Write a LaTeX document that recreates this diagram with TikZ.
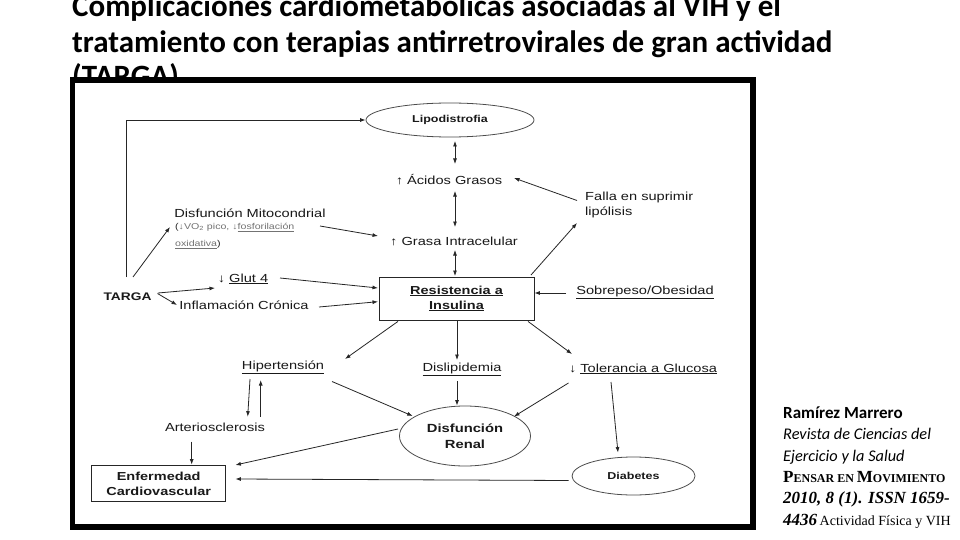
\documentclass[tikz,border=0pt]{standalone}
\usepackage{fontspec}
\usetikzlibrary{shapes.geometric,arrows.meta,calc}
\setmainfont{Liberation Sans}
\newfontfamily\diagfont[FakeStretch=1.25]{Liberation Sans}
\newfontfamily\titlefont{Carlito}
\newfontfamily\citeserif{Liberation Serif}
\begin{document}
\begin{tikzpicture}[x=1pt,y=-1pt,
  lbl/.style={font=\diagfont\fontsize{11.7}{15}\selectfont, inner sep=0pt, text=black!90, align=center},
  blbl/.style={lbl, font=\diagfont\bfseries\fontsize{11.6}{15}\selectfont},
  sblbl/.style={lbl, font=\diagfont\bfseries\fontsize{10}{12}\selectfont},
  subl/.style={font=\diagfont\fontsize{8.5}{17}\selectfont, inner sep=0pt, text=black!55, align=left},
  ell/.style={ellipse, draw=black!70, line width=0.8pt, inner sep=0pt},
  boxn/.style={rectangle, draw=black!85, line width=0.8pt, inner sep=0pt},
  conn/.style={draw=black!85, line width=0.8pt},
  arr/.style={conn, -{Latex[length=5.5pt,width=4pt]}},
  dbl/.style={conn, {Latex[length=5.5pt,width=4pt]}-{Latex[length=5.5pt,width=4pt]}},
  ttl/.style={font=\titlefont\bfseries\fontsize{31}{36}\selectfont, inner sep=0pt, anchor=base west},
  cite/.style={inner sep=0pt, anchor=base west}
]
\useasboundingbox (0,0) rectangle (960,540);
\fill[white] (0,0) rectangle (960,540);

% title
\node[ttl] (t1) at (72,17) {Complicaciones cardiometabólicas asociadas al VIH y el};
\node[ttl] (t2) at (72,53) {tratamiento con terapias antirretrovirales de gran actividad};
\node[ttl] (t3) at (72,87) {(TARGA).};

% frame
\draw[line width=5.5pt, fill=white] (72.5,80) rectangle (753,527);

% nodes
\node[ell, sblbl, minimum width=168pt, minimum height=34pt] (lipo) at (450,120) {Lipodistrofia};
\node[lbl] (acid) at (449,180) {↑ Ácidos Grasos};
\node[lbl, align=left, anchor=west] (falla) at (585,204.5) {Falla en suprimir\\lipólisis};
\node[lbl] (mito) at (250,213) {Disfunción Mitocondrial};
\node[subl, anchor=north west] (msub) at (175,223) {\textcolor{black!85}{(}↓VO\textsubscript{2} pico, ↓\underline{fosforilación}\\\underline{oxidativa}\textcolor{black!85}{)}};
\node[lbl] (grasa) at (454,241) {↑ Grasa Intracelular};
\node[boxn, blbl, minimum width=155pt, minimum height=43pt] (res) at (456.5,298.5) {\underline{Resistencia a}\\\underline{Insulina}};
\node[lbl] (sobre) at (645,292) {\underline{Sobrepeso/Obesidad}};
\node[lbl, font=\diagfont\bfseries\fontsize{11}{13}\selectfont] (targa) at (127.5,296.5) {TARGA};
\node[lbl] (glut) at (243,279) {↓ \underline{Glut 4}};
\node[lbl] (infl) at (244,305) {Inflamación Crónica};
\node[lbl] (hiper) at (283,367.5) {\underline{Hipertensión}};
\node[lbl] (disl) at (462,369) {\underline{Dislipidemia}};
\node[lbl] (toler) at (643,369) {↓ \underline{Tolerancia a Glucosa}};
\node[lbl] (arter) at (215,427) {Arteriosclerosis};
\node[ell, blbl, minimum width=131pt, minimum height=60pt, font=\diagfont\bfseries\fontsize{11.8}{16}\selectfont] (renal) at (465,436) {Disfunción\\Renal};
\node[ell, sblbl, minimum width=123pt, minimum height=38pt] (diab) at (633.5,476) {Diabetes};
\node[boxn, blbl, minimum width=134pt, minimum height=36pt] (ecv) at (158.7,483.7) {Enfermedad\\Cardiovascular};

% connectors
\draw[arr] ($(targa.center)+(-0.8,-19.5)$) |- (lipo.west);
\draw[arr] ($(targa.center)+(5.5,-19.5)$) -- ($(msub.north west)+(-5,4)$);
\draw[arr] ($(targa.center)+(30.5,-3.5)$) -- ($(glut.center)+(-28,9)$);
\draw[arr] ($(targa.center)+(30,-3)$) -- ($(infl.center)+(-67,0)$);
\draw[arr] ($(glut.center)+(37,-1)$) -- ($(res.center)+(-78.5,-10.5)$);
\draw[arr] ($(infl.center)+(75,2)$) -- ($(res.center)+(-78.5,3.2)$);
\draw[arr] ($(mito.center)+(70,13)$) -- ($(grasa.center)+(-76,-5)$);
\draw[dbl] ($(lipo.center)+(5,21)$) -- ($(acid.center)+(6,-16)$);
\draw[dbl] ($(acid.center)+(6,11)$) -- ($(grasa.center)+(1,-14)$);
\draw[dbl] ($(grasa.center)+(1,9)$) -- ($(res.center)+(-1.5,-22.5)$);
\draw[arr] ($(falla.west)+(-8,-4)$) -- ($(acid.center)+(65,-2)$);
\draw[arr] ($(res.center)+(74.5,-23.5)$) -- ($(falla.west)+(-8,18.5)$);
\draw[arr] ($(sobre.center)+(-79,1)$) -- ($(res.east)+(0,-5.5)$);
\draw[arr] ($(res.south)+(-58.5,1)$) -- ($(hiper.center)+(62,-8.5)$);
\draw[arr] ($(res.south)+(0.5,0)$) -- ($(disl.center)+(-5,-9)$);
\draw[arr] ($(res.south)+(71.5,1)$) -- ($(toler.center)+(-71,-15)$);
\draw[arr] ($(hiper.center)+(49,14)$) -- ($(renal.center)+(-52.3,-20)$);
\draw[arr] ($(disl.center)+(-5,12)$) -- ($(renal.north)+(-8,0)$);
\draw[arr] ($(toler.center)+(-74.5,14)$) -- ($(renal.center)+(49,-19.5)$);
\draw[arr] ($(toler.center)+(-32,13)$) -- ($(diab.center)+(-15.5,-23.4)$);
\draw[arr] ($(diab.west)+(-3,4.5)$) -- ($(ecv.east)+(9.3,-4.7)$);
\draw[arr] ($(renal.center)+(-67,-7)$) -- ($(ecv.east)+(9.3,-18.7)$);
\draw[arr] ($(hiper.center)+(-33,11.5)$) -- ($(arter.center)+(32.7,-10.3)$);
\draw[arr] ($(arter.center)+(45.7,-10.3)$) -- ($(hiper.center)+(-22.3,12.5)$);
\draw[arr] ($(arter.center)+(-23.3,14.7)$) -- ($(ecv.north)+(33,-0.7)$);

% citation
\node[cite, font=\titlefont\bfseries\fontsize{17}{20}\selectfont] (c1) at (783,418) {Ramírez Marrero};
\node[cite, font=\titlefont\itshape\fontsize{16.3}{20}\selectfont] (c2) at (783,439.5) {Revista de Ciencias del};
\node[cite, font=\titlefont\itshape\fontsize{16.3}{20}\selectfont] (c3) at (783,461) {Ejercicio y la Salud};
\node[cite, font=\citeserif\bfseries] (c4) at (783,482.5) {\fontsize{17}{20}\selectfont P\fontsize{12}{20}\selectfont ENSAR EN \fontsize{17}{20}\selectfont M\fontsize{12}{20}\selectfont OVIMIENTO};
\node[cite, font=\citeserif\bfseries\itshape\fontsize{17}{20}\selectfont] (c5) at (783,503.5) {2010, 8 (1). ISSN 1659-};
\node[cite, font=\citeserif] (c6) at (783,525) {{\bfseries\itshape\fontsize{17}{20}\selectfont 4436} \fontsize{14}{20}\selectfont Actividad Física y VIH};
\end{tikzpicture}
\end{document}
